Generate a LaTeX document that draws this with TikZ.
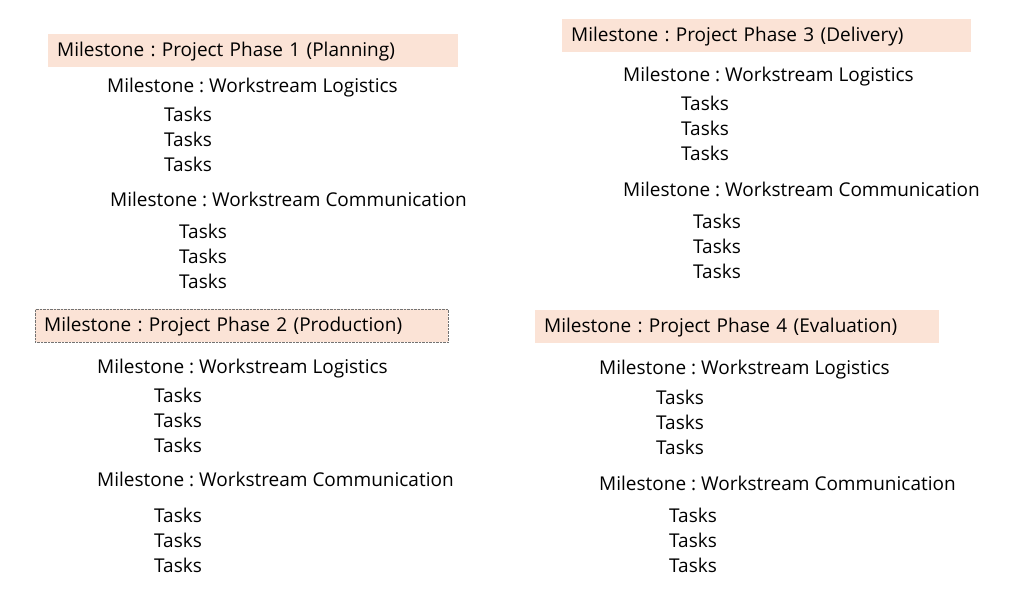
\documentclass[tikz,border=0pt]{standalone}
\usepackage{fontspec}
\setmainfont{Open Sans}
\usepackage{tikz}

\definecolor{peach}{HTML}{FBE3D6}
\tikzset{
  phase/.style={fill=peach, anchor=north west, inner xsep=9pt, inner ysep=0pt,
    minimum height=33pt, text height=14pt, text depth=3pt, align=left},
  stream/.style={anchor=west, inner sep=0pt, text height=16pt, text depth=1pt},
  task/.style={anchor=west, inner sep=0pt, text height=16pt, text depth=1pt}
}

\begin{document}
\frenchspacing
\begin{tikzpicture}[x=1pt,y=-1pt,font=\fontsize{19}{22}\selectfont]
    \useasboundingbox (0,0) rectangle (1015,607);
    %(1)
    \node[phase, text width=392pt] (p1) at (48,34) {Milestone : Project Phase 1 (Planning)};
    \node[stream] (p1log) at (107,85) {Milestone : Workstream Logistics};
    \node[task] (p1t1) at (164,114) {Tasks};
    \node[task] (p1t2) at (164,139) {Tasks};
    \node[task] (p1t3) at (164,164) {Tasks};
    \node[stream] (p1com) at (110,199) {Milestone : Workstream Communication};
    \node[task] (p1t4) at (179,231) {Tasks};
    \node[task] (p1t5) at (179,256) {Tasks};
    \node[task] (p1t6) at (179,281) {Tasks};
    %(2)
    \node[phase, text width=395pt, draw=black!55, densely dotted] (p2) at (35,309) {Milestone : Project Phase 2 (Production)};
    \node[stream] (p2log) at (97,366) {Milestone : Workstream Logistics};
    \node[task] (p2t1) at (154,395) {Tasks};
    \node[task] (p2t2) at (154,420) {Tasks};
    \node[task] (p2t3) at (154,445) {Tasks};
    \node[stream] (p2com) at (97,479) {Milestone : Workstream Communication};
    \node[task] (p2t4) at (154,515) {Tasks};
    \node[task] (p2t5) at (154,540) {Tasks};
    \node[task] (p2t6) at (154,565) {Tasks};
    %(3)
    \node[phase, text width=391pt] (p3) at (562,19) {Milestone : Project Phase 3 (Delivery)};
    \node[stream] (p3log) at (623,74) {Milestone : Workstream Logistics};
    \node[task] (p3t1) at (681,103) {Tasks};
    \node[task] (p3t2) at (681,128) {Tasks};
    \node[task] (p3t3) at (681,153) {Tasks};
    \node[stream] (p3com) at (623,189) {Milestone : Workstream Communication};
    \node[task] (p3t4) at (693,221) {Tasks};
    \node[task] (p3t5) at (693,246) {Tasks};
    \node[task] (p3t6) at (693,271) {Tasks};
    %(4)
    \node[phase, text width=386pt] (p4) at (535,310) {Milestone : Project Phase 4 (Evaluation)};
    \node[stream] (p4log) at (599,367) {Milestone : Workstream Logistics};
    \node[task] (p4t1) at (656,397) {Tasks};
    \node[task] (p4t2) at (656,422) {Tasks};
    \node[task] (p4t3) at (656,447) {Tasks};
    \node[stream] (p4com) at (599,483) {Milestone : Workstream Communication};
    \node[task] (p4t4) at (669,515) {Tasks};
    \node[task] (p4t5) at (669,540) {Tasks};
    \node[task] (p4t6) at (669,565) {Tasks};
\end{tikzpicture}
\end{document}
